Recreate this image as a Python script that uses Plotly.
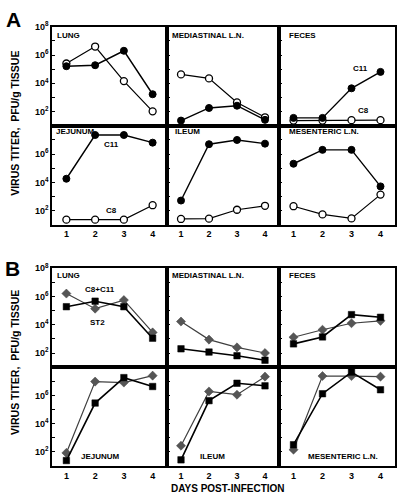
import plotly.graph_objects as go

W, H = 403, 498
days = [1, 2, 3, 4]

# ---- Panel A: log10 titers (filled = C11, open = C8) ----
a_lung_c11 = [5.21, 5.28, 6.30, 3.23]
a_lung_c8 = [5.40, 6.60, 4.16, 2.02]
a_medln_c11 = [1.37, 2.26, 2.42, 1.42]
a_medln_c8 = [4.63, 4.35, 2.65, 1.60]
a_feces_c11 = [1.56, 1.56, 3.65, 4.81]
a_feces_c8 = [1.37, 1.37, 1.40, 1.40]
a_jej_c11 = [4.26, 7.35, 7.35, 6.81]
a_jej_c8 = [1.37, 1.37, 1.37, 2.39]
a_ileum_c11 = [2.72, 6.70, 7.00, 6.74]
a_ileum_c8 = [1.42, 1.44, 2.07, 2.35]
a_mesln_c11 = [5.32, 6.30, 6.30, 3.72]
a_mesln_c8 = [2.32, 1.74, 1.46, 3.14]

# ---- Panel B: log10 titers (diamond = C8+C11, square = ST2) ----
b_lung_mix = [6.21, 5.14, 5.75, 3.46]
b_lung_st2 = [5.28, 5.67, 5.28, 3.05]
b_medln_mix = [4.23, 2.95, 2.40, 2.00]
b_medln_st2 = [2.30, 2.07, 1.81, 1.49]
b_feces_mix = [3.12, 3.65, 4.11, 4.28]
b_feces_st2 = [2.65, 3.14, 4.72, 4.53]
b_jej_mix = [1.93, 6.98, 6.91, 7.40]
b_jej_st2 = [1.39, 5.46, 7.26, 6.63]
b_ileum_mix = [2.44, 6.28, 6.05, 7.33]
b_ileum_st2 = [1.44, 5.63, 6.86, 6.68]
b_mesln_mix = [2.16, 7.37, 7.37, 7.33]
b_mesln_st2 = [2.51, 6.12, 7.65, 6.40]

decades = [1, 2, 3, 4, 5, 6, 7, 8]
tick_labels_top = ["", "10<sup>2</sup>", "", "10<sup>4</sup>", "", "10<sup>6</sup>", "", "10<sup>8</sup>"]
tick_labels_bottom = ["", "10<sup>2</sup>", "", "10<sup>4</sup>", "", "10<sup>6</sup>", "", ""]
day_labels = ["1", "2", "3", "4"]

panel_names_top = ["LUNG", "MEDIASTINAL L.N.", "FECES"]
panel_names_bottom = ["JEJUNUM", "ILEUM", "MESENTERIC L.N."]

FONT = "Liberation Sans, Arial, sans-serif"

col_px = [(52, 167), (167, 279), (279, 395)]
row_px = [(20, 120.5), (120.5, 221), (265, 365.3), (365.3, 465.6)]

fig = go.Figure()
layout = dict(
    width=W, height=H, margin=dict(l=0, r=0, t=0, b=0),
    paper_bgcolor="white", plot_bgcolor="white", showlegend=False,
)

series_A = [
    [(a_lung_c8, a_lung_c11), (a_medln_c8, a_medln_c11), (a_feces_c8, a_feces_c11)],
    [(a_jej_c8, a_jej_c11), (a_ileum_c8, a_ileum_c11), (a_mesln_c8, a_mesln_c11)],
]
series_B = [
    [(b_lung_mix, b_lung_st2), (b_medln_mix, b_medln_st2), (b_feces_mix, b_feces_st2)],
    [(b_jej_mix, b_jej_st2), (b_ileum_mix, b_ileum_st2), (b_mesln_mix, b_mesln_st2)],
]

annotations = []
n = 0
for r in range(4):
    for c in range(3):
        n += 1
        xs = "" if n == 1 else str(n)
        x0, x1 = col_px[c]
        y0, y1 = row_px[r]
        bottom_row = r in (1, 3)
        layout["xaxis" + xs] = dict(
            domain=[x0 / W, x1 / W], range=[0.5, 4.5], anchor="y" + xs,
            showline=True, mirror=True, linecolor="black", linewidth=1.5,
            showgrid=False, zeroline=False, ticks="",
            tickmode="array", tickvals=days, ticktext=day_labels,
            showticklabels=bottom_row,
            tickfont=dict(family=FONT, size=9, color="black", weight="bold"),
        )
        layout["yaxis" + xs] = dict(
            domain=[1 - y1 / H, 1 - y0 / H], type="log", range=[1, 8],
            anchor="x" + xs,
            showline=True, mirror=True, linecolor="black", linewidth=1.5,
            showgrid=False, zeroline=False, ticks="inside", ticklen=3,
            tickwidth=1, tickcolor="black",
            tickmode="array", tickvals=[10 ** d for d in decades],
            ticktext=tick_labels_top if r in (0, 2) else tick_labels_bottom,
            showticklabels=(c == 0),
            tickfont=dict(family=FONT, size=9, color="black", weight="bold"),
        )
        xa, ya = "x" + xs, "y" + xs
        if r < 2:
            open_s, fill_s = series_A[r][c]
            fig.add_trace(go.Scatter(
                x=days, y=[10 ** v for v in open_s], xaxis=xa, yaxis=ya,
                mode="lines+markers", cliponaxis=False,
                line=dict(color="black", width=1.2),
                marker=dict(symbol="circle", size=7, color="white",
                            line=dict(color="black", width=1.3))))
            fig.add_trace(go.Scatter(
                x=days, y=[10 ** v for v in fill_s], xaxis=xa, yaxis=ya,
                mode="lines+markers", cliponaxis=False,
                line=dict(color="black", width=1.4),
                marker=dict(symbol="circle", size=7, color="black",
                            line=dict(color="black", width=1))))
        else:
            mix_s, st2_s = series_B[r - 2][c]
            fig.add_trace(go.Scatter(
                x=days, y=[10 ** v for v in mix_s], xaxis=xa, yaxis=ya,
                mode="lines+markers", cliponaxis=False,
                line=dict(color="#404040", width=1.2),
                marker=dict(symbol="diamond", size=7, color="#555555",
                            line=dict(color="#444444", width=0.5))))
            fig.add_trace(go.Scatter(
                x=days, y=[10 ** v for v in st2_s], xaxis=xa, yaxis=ya,
                mode="lines+markers", cliponaxis=False,
                line=dict(color="black", width=1.6),
                marker=dict(symbol="square", size=6.5, color="black",
                            line=dict(color="black", width=0.5))))


def ann(text, xpx, ypx, size=8, xanchor="center", yanchor="middle", angle=0):
    annotations.append(dict(
        text=text, x=xpx / W, y=1 - ypx / H, xref="paper", yref="paper",
        showarrow=False, xanchor=xanchor, yanchor=yanchor, textangle=angle,
        font=dict(family=FONT, size=size, color="black", weight="bold")))


# Panel letters
ann("A", 13, 12.5, size=21)
ann("B", 12.5, 265.5, size=21)

# Panel names
tops_A = [55, 170, 286.5]
for c in range(3):
    ann(panel_names_top[c], tops_A[c], 28.5, xanchor="left")
    ann(panel_names_bottom[c], [53.5, 173, 286.5][c], 126.5, xanchor="left")
    ann(panel_names_top[c], tops_A[c], 272.5, xanchor="left")
for c, cx in enumerate([101, 212.5, 343]):
    ann(panel_names_bottom[c], cx, 455.5)

# Curve labels
ann("C11", 360.7, 62.7)
ann("C8", 363, 105)
ann("C11", 111.7, 139.5)
ann("C8", 111, 206)
ann("C8+C11", 100, 286.7)
ann("ST2", 97.5, 320)

# Axis titles
ann("VIRUS TITER,  PFU/g TISSUE", 15, 118.5, size=10.5, angle=-90)
ann("VIRUS TITER,  PFU/g TISSUE", 15, 361, size=10.5, angle=-90)
ann("DAYS POST-INFECTION", 228, 488, size=10)

layout["annotations"] = annotations
fig.update_layout(**layout)
fig.write_html(
    "out.html",
    config={"displayModeBar": False, "responsive": False},
    post_script=(
        "document.documentElement.style.margin='0';"
        "document.documentElement.style.overflow='hidden';"
        "document.body.style.margin='0';document.body.style.padding='0';"
        "document.body.style.overflow='hidden';"
    ),
)
